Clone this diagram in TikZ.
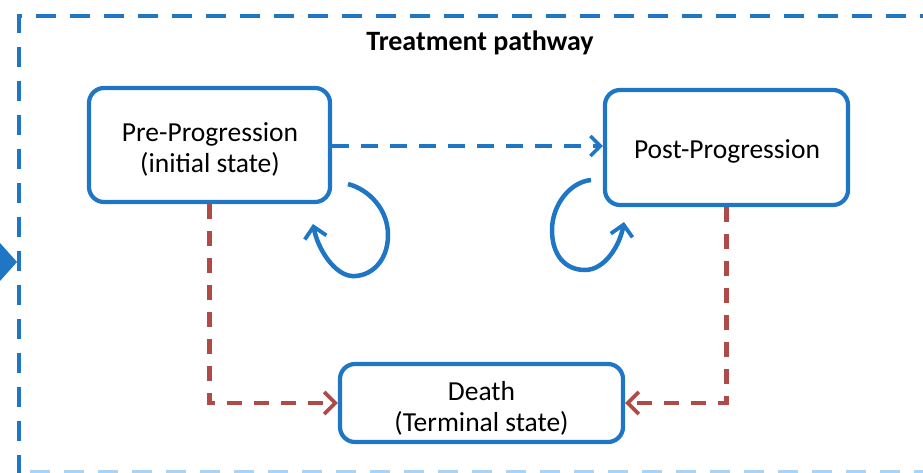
\documentclass[tikz,border=0pt]{standalone}
\usepackage{fontspec}
\setmainfont{Carlito}
\usetikzlibrary{arrows.meta}
\definecolor{mblue}{RGB}{30,118,196}
\definecolor{lblue}{RGB}{170,212,245}
\definecolor{mred}{RGB}{176,74,70}
\tikzset{
  statebox/.style={draw=mblue, line width=4.2pt, rounded corners=15pt, inner sep=0pt},
  statetext/.style={align=center, inner sep=0pt, font=\fontsize{27.5}{31}\selectfont},
  bluedash/.style={draw=mblue, line width=4.2pt, dash pattern=on 17pt off 12pt},
  reddash/.style={draw=mred, line width=4.5pt, dash pattern=on 15pt off 12pt},
  outerdash/.style={line width=4.5pt, dash pattern=on 20pt off 14pt},
  loopline/.style={draw=mblue, line width=4.5pt},
  barb/.style={-{Straight Barb[length=11pt,width=22pt,line width=3.8pt]}}
}
\begin{document}
\begin{tikzpicture}[x=1pt,y=-1pt]
\useasboundingbox (0,0) rectangle (923,473);
\clip (0,0) rectangle (923,473);
% outer frame
\draw[outerdash, draw=mblue] (940,16) -- (19,16) -- (19,490);
\draw[outerdash, draw=lblue] (30,472) -- (940,472);
\fill[mblue] (0,243) -- (17,262) -- (0,281) -- cycle;
\node[font=\fontsize{28}{32}\selectfont\bfseries] (title) at (480,43) {Treatment pathway};
% states
\node[statebox, minimum width=241pt, minimum height=114pt] (pre) at (209.5,145) {};
\node[statebox, minimum width=243pt, minimum height=115pt] (post) at (726.5,147.5) {};
\node[statebox, minimum width=283pt, minimum height=78pt] (death) at (481.5,403) {};
\node[statetext] (pretext) at (210,149.5) {Pre-Progression\\(initial state)};
\node[statetext] (posttext) at (727,151.5) {Post-Progression};
\node[statetext] (deathtext) at (481.5,408.5) {Death\\(Terminal state)};
% transitions
\draw[bluedash, -{Straight Barb[length=10pt,width=20pt,line width=3.5pt]}] (pre.east |- 0,146) -- (post.west |- 0,146);
\draw[reddash, barb] (pre.south) -- (pre.south |- death.west) -- (death.west);
\draw[reddash, barb] (post.south) -- (post.south |- death.east) -- (death.east);
% self loops
\coordinate (preA) at (348,184);
\coordinate (preB) at (313,224);
\coordinate (postA) at (591,180);
\coordinate (postB) at (624,222);
\draw[loopline, barb] (preA) .. controls (370,190) and (388,210) .. (388,235)
  .. controls (388,262) and (370,277) .. (352,276)
  .. controls (335,275) and (318,250) .. (preB);
\draw[loopline, barb] (postA) .. controls (570,182) and (552,205) .. (552,230)
  .. controls (552,255) and (565,270) .. (585,270)
  .. controls (605,270) and (620,245) .. (postB);
\end{tikzpicture}
\end{document}
